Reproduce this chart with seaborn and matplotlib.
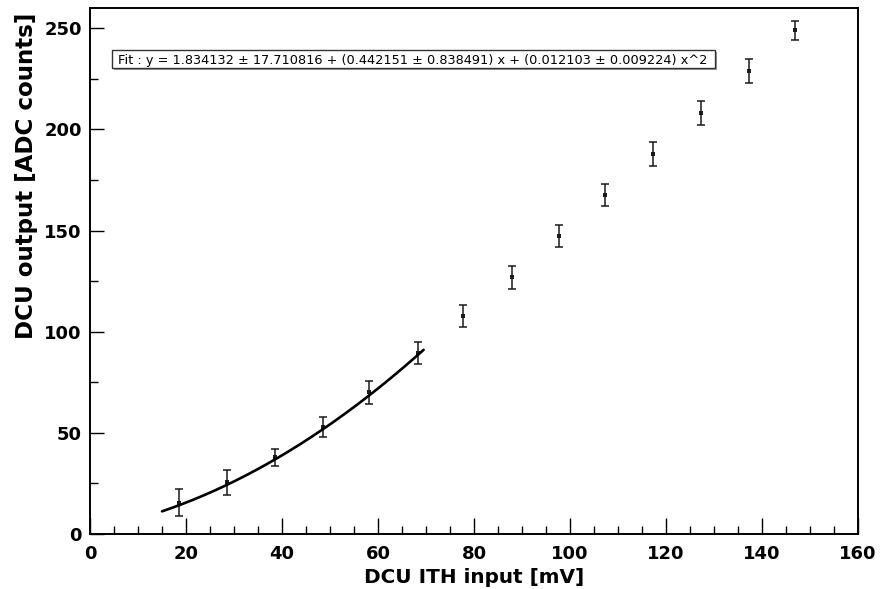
import numpy as np
import pandas as pd
import matplotlib
matplotlib.use("Agg")
import matplotlib.pyplot as plt
import seaborn as sns
from matplotlib.patches import Rectangle
from matplotlib.ticker import MultipleLocator

# DCU calibration: ITH input voltage vs. ADC output
ith_input_mv = [18.5, 28.5, 38.5, 48.5, 58.1, 68.3, 77.7, 87.9, 97.7, 107.3, 117.3, 127.3, 137.3, 146.9]
dcu_output_adc = [15.5, 25.5, 38.0, 53.0, 70.0, 89.3, 107.7, 127.0, 147.2, 167.5, 187.7, 208.0, 228.7, 249.0]
dcu_output_err = [6.8, 6.2, 4.2, 5.0, 5.7, 5.4, 5.6, 5.7, 5.4, 5.6, 5.9, 6.0, 6.0, 4.7]

# second-order polynomial fit (restricted to the low-voltage range)
fit_p0, fit_p0_err = 1.834132, 17.710816
fit_p1, fit_p1_err = 0.442151, 0.838491
fit_p2, fit_p2_err = 0.012103, 0.009224
fit_range = (15.0, 69.5)

sns.set_theme(style="white")
plt.rcParams["font.family"] = ["DejaVu Sans"]
plt.rcParams["font.weight"] = "bold"
plt.rcParams["text.color"] = "black"
plt.rcParams["axes.labelcolor"] = "black"

W, H = 894, 589
fig = plt.figure(figsize=(W / 100, H / 100), dpi=100)
ax_l, ax_r, ax_t, ax_b = 90, 858, 8, 534
ax = fig.add_axes([ax_l / W, 1 - ax_b / H, (ax_r - ax_l) / W, (ax_b - ax_t) / H])

df = pd.DataFrame({"x": ith_input_mv, "y": dcu_output_adc, "err": dcu_output_err})

ax.errorbar(df["x"], df["y"], yerr=df["err"], fmt="none", ecolor="#1a1a1a",
            elinewidth=1.1, capsize=2.6, capthick=1.1, zorder=3)
sns.scatterplot(data=df, x="x", y="y", marker="s", s=5, color="#1a1a1a",
                linewidth=0, ax=ax, zorder=4)

xf = np.linspace(fit_range[0], fit_range[1], 200)
yf = fit_p0 + fit_p1 * xf + fit_p2 * xf ** 2
sns.lineplot(x=xf, y=yf, color="black", linewidth=1.9, ax=ax, zorder=5)

ax.set_xlim(0, 160)
ax.set_ylim(0, 260)
ax.xaxis.set_major_locator(MultipleLocator(20))
ax.xaxis.set_minor_locator(MultipleLocator(5))
ax.yaxis.set_major_locator(MultipleLocator(50))
ax.yaxis.set_minor_locator(MultipleLocator(25))

ax.tick_params(which="both", bottom=True, left=True, top=False, right=False,
               direction="in", color="black", width=1.0)
ax.tick_params(axis="x", which="major", length=11.5, labelsize=13, pad=8, labelcolor="black")
ax.tick_params(axis="x", which="minor", length=5.5)
ax.tick_params(axis="y", which="major", length=10, labelsize=13, pad=6, labelcolor="black")
ax.tick_params(axis="y", which="minor", length=5.5)

for sp in ax.spines.values():
    sp.set_visible(True)
    sp.set_linewidth(1.4)
    sp.set_color("black")

ax.set_xlabel("DCU ITH input [mV]", fontsize=14.4, fontweight="bold", color="black")
ax.set_ylabel("DCU output [ADC counts]", fontsize=16.6, fontweight="bold", loc="top",
              color="black")
ax.xaxis.set_label_coords(0.5, (ax_b - 568) / (ax_b - ax_t))
ax.yaxis.set_label_coords((38 - ax_l) / (ax_r - ax_l), (ax_b - 13) / (ax_b - ax_t))

# fit result box with drop shadow
aw, ah = ax_r - ax_l, ax_b - ax_t
bx0, bx1, by0, by1 = 112, 715, 50, 68
x0 = (bx0 - ax_l) / aw
y0 = (ax_b - by1) / ah
bw = (bx1 - bx0) / aw
bh = (by1 - by0) / ah
ax.add_patch(Rectangle((x0 + 2 / aw, y0 - 2 / ah), bw, bh, transform=ax.transAxes,
                       facecolor="#9a9a9a", edgecolor="none", zorder=6, clip_on=False))
ax.add_patch(Rectangle((x0, y0), bw, bh, transform=ax.transAxes,
                       facecolor="white", edgecolor="#333333", linewidth=1.0, zorder=7,
                       clip_on=False))
fit_text = (f"Fit : y = {fit_p0:.6f} \u00b1 {fit_p0_err:.6f} + "
            f"({fit_p1:.6f} \u00b1 {fit_p1_err:.6f}) x + "
            f"({fit_p2:.6f} \u00b1 {fit_p2_err:.6f}) x^2")
ax.text(x0 + 6 / aw, y0 + bh / 2, fit_text, transform=ax.transAxes, fontsize=9.3,
        fontweight="normal", ha="left", va="center_baseline", color="black", zorder=8)

fig.savefig("out.png", dpi=100)
